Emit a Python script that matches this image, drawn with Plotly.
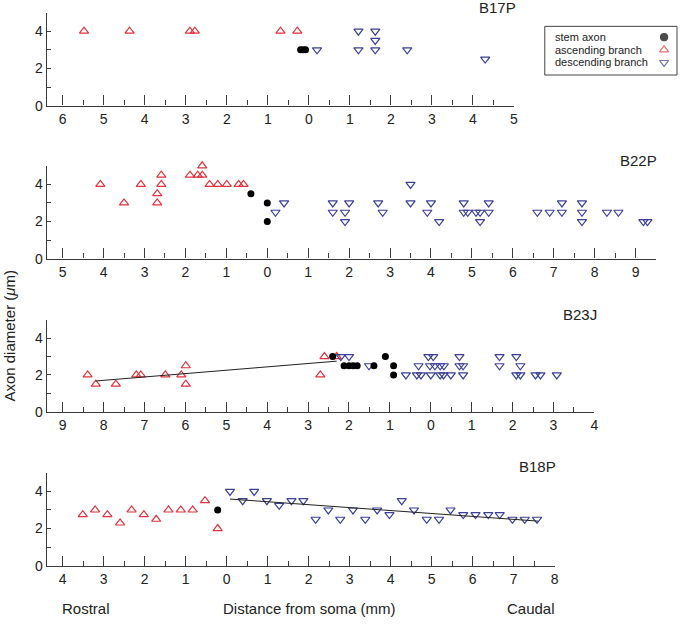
import plotly.graph_objects as go

W, H = 682, 625
RED = '#e2333f'
BLUE = '#3b3f98'
AXIS = '#3a3a3a'
FONT = 'Arial, Liberation Sans, sans-serif'


def px(x):
    return x / W


def py(y):
    return 1 - y / H


# B17P
b17p_stem_x = [-0.2, -0.14, -0.08]
b17p_stem_y = [3, 3, 3]
b17p_asc_x = [-5.48, -4.37, -2.9, -2.78, -0.69, -0.28]
b17p_asc_y = [4, 4, 4, 4, 4, 4]
b17p_desc_x = [0.2, 1.21, 1.21, 1.62, 1.62, 1.62, 2.4, 4.3]
b17p_desc_y = [3, 4, 3, 4, 3.5, 3, 3, 2.5]

# B22P
b22p_stem_x = [-0.4, 0, 0]
b22p_stem_y = [3.5, 3, 2]
b22p_asc_x = [-4.08, -3.5, -3.09, -2.69, -2.69, -2.59, -2.59, -1.89, -1.7, -1.59,
              -1.59, -1.41, -1.21, -0.99, -0.7, -0.58]
b22p_asc_y = [4, 3, 4, 3.5, 3, 4.5, 4, 4.5, 4.5, 4.5, 5, 4, 4, 4, 4, 4]
b22p_desc_x = [0.2, 0.41, 1.6, 1.6, 2.0, 1.9, 1.9, 2.71, 2.82, 3.5, 3.5, 4.0, 3.91,
               4.2, 4.8, 4.8, 4.9, 5.1, 5.2, 5.2, 5.41, 5.41, 6.6, 6.9, 7.2, 7.2,
               7.69, 7.69, 7.69, 8.3, 8.58, 9.19, 9.29]
b22p_desc_y = [2.5, 3, 3, 2.5, 3, 2.5, 2, 3, 2.5, 4, 3, 3, 2.5, 2, 3, 2.5, 2.5, 2.5,
               2.5, 2, 3, 2.5, 2.5, 2.5, 3, 2.5, 3, 2.5, 2, 2.5, 2.5, 2, 2]

# B23J
b23j_stem_x = [-2.4, -2.12, -2.0, -1.9, -1.8, -1.39, -1.11, -0.91, -0.91]
b23j_stem_y = [3, 2.5, 2.5, 2.5, 2.5, 2.5, 3, 2.5, 2]
b23j_asc_x = [-8.39, -8.19, -7.7, -7.2, -7.09, -6.49, -6.1, -5.99, -5.99, -2.7, -2.6, -2.3]
b23j_asc_y = [2, 1.5, 1.5, 2, 2, 2, 2, 2.5, 1.5, 2, 3, 3]
b23j_desc_x = [-2.2, -2.0, -1.51, -0.61, -0.34, -0.24, 0, 0.23, 0.31, 0.49, 0.79,
               -0.3, -0.02, 0.1, 0.23, 0.32, 0.7, 0.79, -0.06, 0.06, 0.7,
               1.68, 1.68, 2.09, 2.19, 2.09, 2.19, 2.56, 2.68, 3.08]
b23j_desc_y = [3, 3, 2.5, 2, 2, 2, 2, 2, 2, 2, 2,
               2.5, 2.5, 2.5, 2.5, 2.5, 2.5, 2.5, 3, 3, 3,
               3, 2.5, 3, 2.5, 2, 2, 2, 2, 2]
b23j_fit_x = [-8.2, -2.3]
b23j_fit_y = [1.67, 2.75]

# B18P
b18p_stem_x = [-0.22]
b18p_stem_y = [3]
b18p_asc_x = [-3.51, -3.21, -2.91, -2.6, -2.32, -2.02, -1.72, -1.42, -1.12, -0.83, -0.53, -0.22]
b18p_asc_y = [2.75, 3, 2.75, 2.3, 3, 2.75, 2.5, 3, 3, 3, 3.5, 2]
b18p_desc_x = [0.08, 0.39, 0.67, 0.98, 1.28, 1.58, 1.87, 2.17, 2.48, 2.77, 3.08, 3.38,
               3.67, 3.97, 4.27, 4.57, 4.88, 5.18, 5.46, 5.77, 6.07, 6.38, 6.66,
               6.97, 7.27, 7.57]
b18p_desc_y = [4, 3.5, 4, 3.5, 3.25, 3.5, 3.5, 2.5, 3, 2.5, 3, 2.5, 3, 2.75, 3.5, 3,
               2.5, 2.5, 3, 2.75, 2.75, 2.75, 2.75, 2.5, 2.5, 2.5]
b18p_fit_x = [0.08, 7.6]
b18p_fit_y = [3.59, 2.4]

# panel geometry in page pixels: left, right, y of 0, y of top; x range; title pos
panels = [
    dict(name='B17P', stem=(b17p_stem_x, b17p_stem_y), asc=(b17p_asc_x, b17p_asc_y),
         desc=(b17p_desc_x, b17p_desc_y), fit=None,
         px=(47, 517, 107, 12.7), xr=(-6.39, 5.0), title=(500, 8)),
    dict(name='B22P', stem=(b22p_stem_x, b22p_stem_y), asc=(b22p_asc_x, b22p_asc_y),
         desc=(b22p_desc_x, b22p_desc_y), fit=None,
         px=(47, 660, 262, 168), xr=(-5.39, 9.5), title=(642, 163)),
    dict(name='B23J', stem=(b23j_stem_x, b23j_stem_y), asc=(b23j_asc_x, b23j_asc_y),
         desc=(b23j_desc_x, b23j_desc_y), fit=(b23j_fit_x, b23j_fit_y),
         px=(47, 598, 417, 324), xr=(-9.39, 4.0), title=(583, 319)),
    dict(name='B18P', stem=(b18p_stem_x, b18p_stem_y), asc=(b18p_asc_x, b18p_asc_y),
         desc=(b18p_desc_x, b18p_desc_y), fit=(b18p_fit_x, b18p_fit_y),
         px=(47, 558, 573, 479), xr=(-4.39, 8.0), title=(541, 473)),
]

fig = go.Figure()
annotations = []

for i, p in enumerate(panels, start=1):
    xa = 'x' if i == 1 else f'x{i}'
    ya = 'y' if i == 1 else f'y{i}'
    asc_x, asc_y = p['asc']
    desc_x, desc_y = p['desc']
    stem_x, stem_y = p['stem']
    fig.add_trace(go.Scatter(x=asc_x, y=asc_y, mode='markers', xaxis=xa, yaxis=ya,
                             marker=dict(symbol='triangle-up-open', size=8, color=RED,
                                         line=dict(width=1.2, color=RED)),
                             cliponaxis=False, showlegend=False, hoverinfo='skip'))
    fig.add_trace(go.Scatter(x=desc_x, y=desc_y, mode='markers', xaxis=xa, yaxis=ya,
                             marker=dict(symbol='triangle-down-open', size=8, color=BLUE,
                                         line=dict(width=1.2, color=BLUE)),
                             cliponaxis=False, showlegend=False, hoverinfo='skip'))
    fig.add_trace(go.Scatter(x=stem_x, y=stem_y, mode='markers', xaxis=xa, yaxis=ya,
                             marker=dict(symbol='circle', size=7, color='black'),
                             cliponaxis=False, showlegend=False, hoverinfo='skip'))
    if p['fit']:
        fig.add_trace(go.Scatter(x=p['fit'][0], y=p['fit'][1], mode='lines',
                                 xaxis=xa, yaxis=ya, line=dict(color='#222', width=1),
                                 showlegend=False, hoverinfo='skip'))

    left, right, y0, ytop = p['px']
    lo, hi = p['xr']
    major = [v for v in range(-10, 11) if lo <= v <= hi]
    minor = [v + 0.5 for v in major if lo <= v + 0.5 <= hi]
    fig.layout[f'xaxis{"" if i == 1 else i}'] = dict(
        domain=[px(left), px(right)], anchor=ya, range=[lo, hi + 0.002],
        showgrid=False, zeroline=False, showline=True, linecolor=AXIS, linewidth=1.3,
        ticks='inside', ticklen=10, tickwidth=1.2, tickcolor=AXIS,
        tickmode='array', tickvals=major, ticktext=[str(abs(v)) for v in major],
        minor=dict(tickmode='array', tickvals=minor, ticks='inside', ticklen=5,
                   tickwidth=1.2, tickcolor=AXIS, showgrid=False),
        tickfont=dict(family=FONT, size=14, color='#222'), fixedrange=True)
    fig.layout[f'yaxis{"" if i == 1 else i}'] = dict(
        domain=[py(y0), py(ytop)], anchor=xa, range=[0, 5],
        showgrid=False, zeroline=False, showline=True, linecolor=AXIS, linewidth=1.3,
        ticks='inside', ticklen=4, tickwidth=1.2, tickcolor=AXIS,
        tickmode='array', tickvals=[0, 2, 4],
        minor=dict(tickmode='array', tickvals=[1, 3, 5], ticks='inside', ticklen=4,
                   tickwidth=1.2, tickcolor=AXIS, showgrid=False),
        tickfont=dict(family=FONT, size=14, color='#222'), fixedrange=True)

    tx, ty = p['title']
    annotations.append(dict(text=p['name'], x=px(tx), y=py(ty), xref='paper', yref='paper',
                            xanchor='center', yanchor='middle', showarrow=False,
                            font=dict(family=FONT, size=15, color='#222')))

# axis texts
annotations += [
    dict(text='Rostral', x=px(60), y=py(616), xanchor='left'),
    dict(text='Distance from soma (mm)', x=px(311), y=py(616), xanchor='center'),
    dict(text='Caudal', x=px(560), y=py(616), xanchor='right'),
    dict(text='Axon diameter (<i>μ</i>m)', x=px(10), y=py(340), xanchor='center',
         textangle=-90),
]
for a in annotations[-4:]:
    a.update(xref='paper', yref='paper', yanchor='middle', showarrow=False,
             font=dict(family=FONT, size=15, color='#222'))

# legend: text on the left, symbol on the right
leg_labels = ['stem axon', 'ascending branch', 'descending branch']
leg_y = [37.7, 51, 63.3]
for lab, ly in zip(leg_labels, leg_y):
    annotations.append(dict(text=lab, x=px(556), y=py(ly), xref='paper', yref='paper',
                            xanchor='left', yanchor='middle', showarrow=False,
                            font=dict(family=FONT, size=11, color='#222')))

fig.add_trace(go.Scatter(x=[0, 0, 0], y=[2, 1, 0], mode='markers', xaxis='x5', yaxis='y5',
                         marker=dict(symbol=['circle', 'triangle-up-open', 'triangle-down-open'],
                                     size=[7, 8, 8], color=['black', RED, BLUE],
                                     line=dict(width=1.2, color=['black', RED, BLUE])),
                         cliponaxis=False, showlegend=False, hoverinfo='skip'))
fig.update_layout(
    xaxis5=dict(domain=[px(660), px(676)], range=[-1, 1], visible=False, anchor='y5',
                fixedrange=True),
    yaxis5=dict(domain=[py(63.3), py(37.7)], range=[0, 2], visible=False,
                anchor='x5', fixedrange=True),
)

fig.add_shape(type='rect', xref='paper', yref='paper', x0=px(548), x1=px(681),
              y0=py(76), y1=py(26.7), line=dict(color='#444', width=1))

fig.update_layout(width=W, height=H, margin=dict(l=0, r=0, t=0, b=0),
                  paper_bgcolor='white', plot_bgcolor='white',
                  annotations=annotations, showlegend=False,
                  font=dict(family=FONT, color='#222'))

# drop the default 8px page margin so the figure sits at the window corner
fig.write_html("out.html", config={'displayModeBar': False},
               post_script="document.body.style.margin='0';")
